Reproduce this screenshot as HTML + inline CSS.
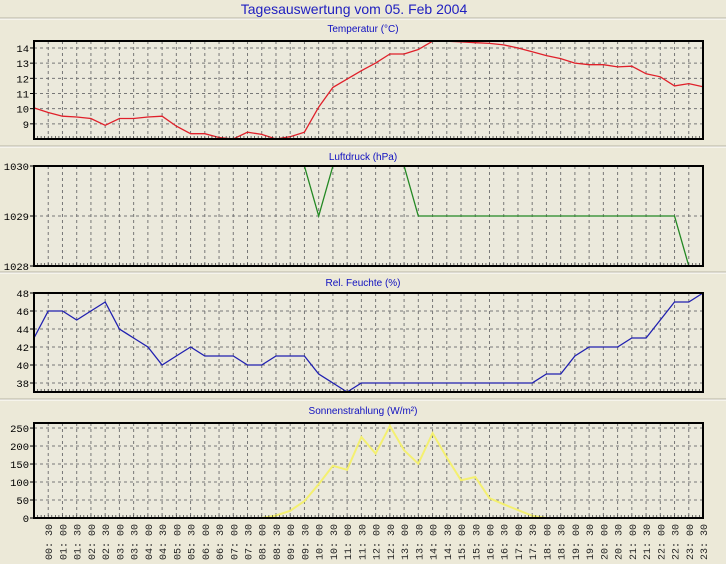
<!DOCTYPE html>
<html><head><meta charset="utf-8">
<style>
html,body{margin:0;padding:0;background:#ece9d8;width:726px;height:564px;overflow:hidden}
svg{display:block}
text{font-family:"Liberation Sans",sans-serif}
.yl{font-family:"Liberation Mono",monospace;font-size:10.5px;fill:#000}
.xl{font-family:"Liberation Mono",monospace;font-size:10px;fill:#222}
.pt{font-size:10px;fill:#1010c0}
</style></head>
<body>
<svg id="chart" width="726" height="564" xmlns="http://www.w3.org/2000/svg">
<text x="354" y="14" text-anchor="middle" font-size="14" fill="#2020c0">Tagesauswertung vom 05. Feb 2004</text>
</svg>
<script>
const timeLabels=["00:00","00:30","01:00","01:30","02:00","02:30","03:00","03:30","04:00","04:30","05:00","05:30","06:00","06:30","07:00","07:30","08:00","08:30","09:00","09:30","10:00","10:30","11:00","11:30","12:00","12:30","13:00","13:30","14:00","14:30","15:00","15:30","16:00","16:30","17:00","17:30","18:00","18:30","19:00","19:30","20:00","20:30","21:00","21:30","22:00","22:30","23:00","23:30"];
const temperature=[10.05,9.75,9.5,9.45,9.35,8.9,9.35,9.35,9.45,9.5,8.85,8.35,8.35,8.1,8.0,8.45,8.3,8.0,8.15,8.45,10.1,11.4,11.95,12.5,13.0,13.6,13.6,13.9,14.45,14.45,14.4,14.35,14.3,14.2,14.0,13.75,13.5,13.3,13.0,12.9,12.9,12.75,12.8,12.3,12.1,11.5,11.65,11.45];
const pressure=[1030,1030,1030,1030,1030,1030,1030,1030,1030,1030,1030,1030,1030,1030,1030,1030,1030,1030,1030,1030,1029,1030,1030,1030,1030,1030,1030,1029,1029,1029,1029,1029,1029,1029,1029,1029,1029,1029,1029,1029,1029,1029,1029,1029,1029,1029,1028,1028];
const humidity=[43,46,46,45,46,47,44,43,42,40,41,42,41,41,41,40,40,41,41,41,39,38,37,38,38,38,38,38,38,38,38,38,38,38,38,38,39,39,41,42,42,42,43,43,45,47,47,48];
const solar=[null,null,null,null,null,null,null,null,null,null,null,null,null,null,null,null,0,7,20,47,94,145,134,225,179,256,188,151,236,168,105,114,55,38,22,6,0,null,null,null,null,null,null,null,null,null,null,null];
const tempTicks=[9,10,11,12,13,14];
const pressTicks=[1028,1029,1030];
const humTicks=[38,40,42,44,46,48];
const solarTicks=[0,50,100,150,200,250];

const NS="http://www.w3.org/2000/svg";
const svg=document.getElementById('chart');
const X0=34,X1=703;
function xAt(i){return X0+(X1-X0)*i/(timeLabels.length-1);}
function mk(tag,attrs,parent){const e=document.createElementNS(NS,tag);for(const k in attrs)e.setAttribute(k,attrs[k]);(parent||svg).appendChild(e);return e;}

[18,146,272,399].forEach(y=>{
  const l=mk('line',{x1:0,x2:726,y1:y,y2:y,stroke:'#b8b5a4','stroke-width':1});
  
  
  mk('line',{x1:0,x2:726,y1:y+1,y2:y+1,stroke:'#ffffff','stroke-width':1});
});

const panels=[
 {name:'temperature',title:'Temperatur (°C)',ty:32,top:41,bot:139,min:8,max:14.46,data:temperature,ticks:tempTicks,color:'#e0202a'},
 {name:'pressure',title:'Luftdruck (hPa)',ty:160,top:166,bot:266,min:1028,max:1030,data:pressure,ticks:pressTicks,color:'#228822'},
 {name:'humidity',title:'Rel. Feuchte (%)',ty:286,top:293,bot:392,min:37,max:48,data:humidity,ticks:humTicks,color:'#2020b0'},
 {name:'solar',title:'Sonnenstrahlung (W/m²)',ty:414,top:423,bot:518,min:0,max:264,data:solar,ticks:solarTicks,color:'#f4f070'}
];
panels.forEach(p=>{
  const y=v=>p.bot-(v-p.min)/(p.max-p.min)*(p.bot-p.top);
  const g=mk('g',{});
  
  
  const t=mk('text',{x:363,y:p.ty,'text-anchor':'middle',class:'pt'},g);
  t.textContent=p.title;
  
  
  mk('rect',{x:X0,y:p.top,width:X1-X0,height:p.bot-p.top,fill:'#ebe9dc'},g);
  for(let i=1;i<timeLabels.length-1;i++){
    mk('line',{x1:xAt(i),x2:xAt(i),y1:p.top,y2:p.bot,stroke:'#777','stroke-width':1,'stroke-dasharray':'3,3'},g);
  }
  p.ticks.forEach(v=>{
    const yy=y(v);
    if(yy>p.top+1&&yy<p.bot-1) mk('line',{x1:X0,x2:X1,y1:yy,y2:yy,stroke:'#777','stroke-width':1,'stroke-dasharray':'3,3'},g);
    mk('line',{x1:X0-4,x2:X0,y1:yy,y2:yy,stroke:'#000'},g);
    const tl=mk('text',{x:X0-5,y:yy+4,'text-anchor':'end',class:'yl'},g);
    tl.textContent=String(v);
    
    
  });
  let segs=[],cur=[];
  p.data.forEach((v,i)=>{ if(v===null){if(cur.length)segs.push(cur);cur=[];} else cur.push(xAt(i).toFixed(1)+','+y(v).toFixed(1)); });
  if(cur.length)segs.push(cur);
  segs.forEach(s=>{
    const pl=mk('polyline',{points:s.join(' '),fill:'none',stroke:p.color,'stroke-width':p.name==='solar'?2:1.3},g);
    
    
  });
  for(let i=0;i<(timeLabels.length-1)*4;i++){
    const xx=X0+(X1-X0)*i/((timeLabels.length-1)*4);
    mk('line',{x1:xx,x2:xx,y1:p.bot-3,y2:p.bot,stroke:'#333','stroke-width':0.7},g);
  }
  const fr=mk('rect',{x:X0,y:p.top,width:X1-X0,height:p.bot-p.top,fill:'none',stroke:'#000','stroke-width':2},g);
  
  
});
for(let i=1;i<timeLabels.length;i++){
  const xx=xAt(i)+4;
  const t=mk('text',{x:0,y:0,class:'xl','text-anchor':'end',transform:`translate(${xx},524) rotate(-90)`});
  t.textContent=timeLabels[i].replace(':',': ');
  
  
}
</script>
</body></html>
